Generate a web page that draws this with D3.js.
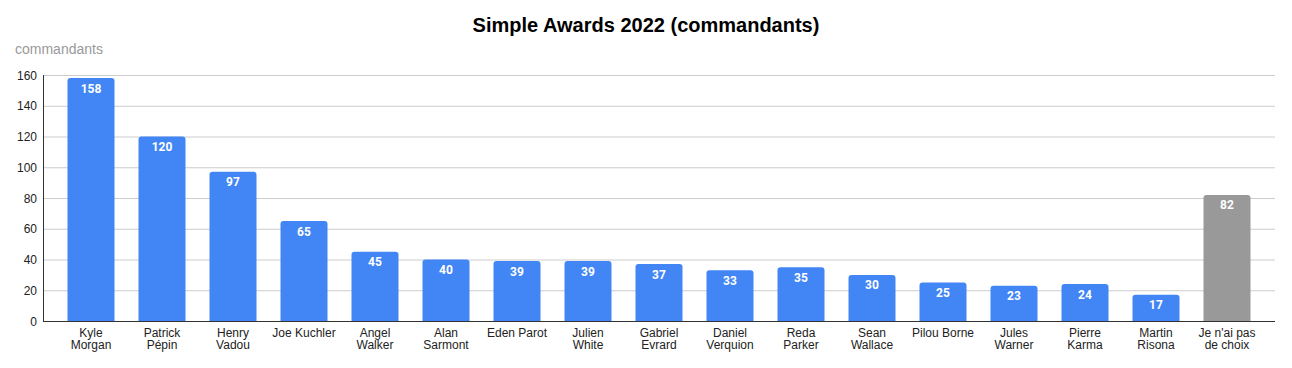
<!DOCTYPE html>
<html lang="en">
<head>
<meta charset="UTF-8">
<title>Simple Awards 2022 (commandants)</title>
<script src="https://d3js.org/d3.v7.min.js"></script>
<style>
  html, body { margin: 0; padding: 0; background: #fff; }
  svg { display: block; font-family: Arial, "Liberation Sans", sans-serif; }
</style>
</head>
<body>
<script>
// data
const names = ["Kyle\nMorgan", "Patrick\nPépin", "Henry\nVadou", "Joe Kuchler", "Angel\nWalker",
  "Alan\nSarmont", "Eden Parot", "Julien\nWhite", "Gabriel\nEvrard", "Daniel\nVerquion",
  "Reda\nParker", "Sean\nWallace", "Pilou Borne", "Jules\nWarner", "Pierre\nKarma",
  "Martin\nRisona", "Je n'ai pas\nde choix"];
const votes = [158, 120, 97, 65, 45, 40, 39, 39, 37, 33, 35, 30, 25, 23, 24, 17, 82];
const yTicks = [0, 20, 40, 60, 80, 100, 120, 140, 160];

const width = 1292, height = 368;
const svg = d3.select("body").append("svg")
  .attr("width", width)
  .attr("height", height);

const x = d3.scaleBand()
  .domain(names)
  .range([67.5, 1250.5])
  .paddingInner(0.338)
  .paddingOuter(0);

const y = d3.scaleLinear()
  .domain([0, 160])
  .range([321, 75]);

// title
svg.append("text")
  .attr("x", 646).attr("y", 32)
  .attr("text-anchor", "middle")
  .attr("font-size", 20).attr("font-weight", "bold")
  .attr("fill", "#000")
  .text("Simple Awards 2022 (commandants)");

// axis title
svg.append("text")
  .attr("x", 15).attr("y", 54)
  .attr("font-size", 14).attr("fill", "#999")
  .text("commandants");

// gridlines
svg.append("g")
  .selectAll("line")
  .data(yTicks.filter(d => d > 0))
  .join("line")
  .attr("x1", 43).attr("x2", 1275)
  .attr("y1", d => y(d) + 0.5).attr("y2", d => y(d) + 0.5)
  .attr("stroke", "#ccc");

// y axis labels
svg.append("g")
  .selectAll("text")
  .data(yTicks)
  .join("text")
  .attr("x", 37).attr("y", d => y(d) + 4.5)
  .attr("text-anchor", "end")
  .attr("font-size", 12).attr("fill", "#222")
  .text(d => d);

// bars with rounded top
const r = 3;
function barPath(d, i) {
  const x0 = x(names[i]), w = x.bandwidth();
  const top = y(d), bot = y(0);
  return `M${x0},${bot} V${top + r} Q${x0},${top} ${x0 + r},${top} H${x0 + w - r} Q${x0 + w},${top} ${x0 + w},${top + r} V${bot} Z`;
}

svg.append("g")
  .selectAll("path")
  .data(votes)
  .join("path")
  .attr("d", barPath)
  .attr("fill", (d, i) => i === votes.length - 1 ? "#999999" : "#4285f4");

// value labels
svg.append("g")
  .selectAll("text")
  .data(votes)
  .join("text")
  .attr("x", (d, i) => x(names[i]) + x.bandwidth() / 2)
  .attr("y", d => y(d) + 14.5)
  .attr("text-anchor", "middle")
  .attr("font-family", "Roboto, Arial, sans-serif")
  .attr("font-size", 12).attr("font-weight", "bold")
  .attr("fill", "#fff")
  .text(d => d);

// axes lines
svg.append("line")
  .attr("x1", 43.5).attr("x2", 43.5).attr("y1", 75).attr("y2", 321)
  .attr("stroke", "#333");
svg.append("line")
  .attr("x1", 43).attr("x2", 1275).attr("y1", 321.5).attr("y2", 321.5)
  .attr("stroke", "#333");

// x labels
const xl = svg.append("g")
  .selectAll("text")
  .data(names)
  .join("text")
  .attr("x", d => x(d) + x.bandwidth() / 2)
  .attr("y", 337)
  .attr("text-anchor", "middle")
  .attr("font-size", 12).attr("fill", "#222");

xl.each(function(d) {
  const t = d3.select(this);
  d.split("\n").forEach((line, k) => {
    t.append("tspan")
      .attr("x", x(d) + x.bandwidth() / 2)
      .attr("dy", k === 0 ? 0 : 12)
      .text(line);
  });
});
</script>
</body>
</html>
